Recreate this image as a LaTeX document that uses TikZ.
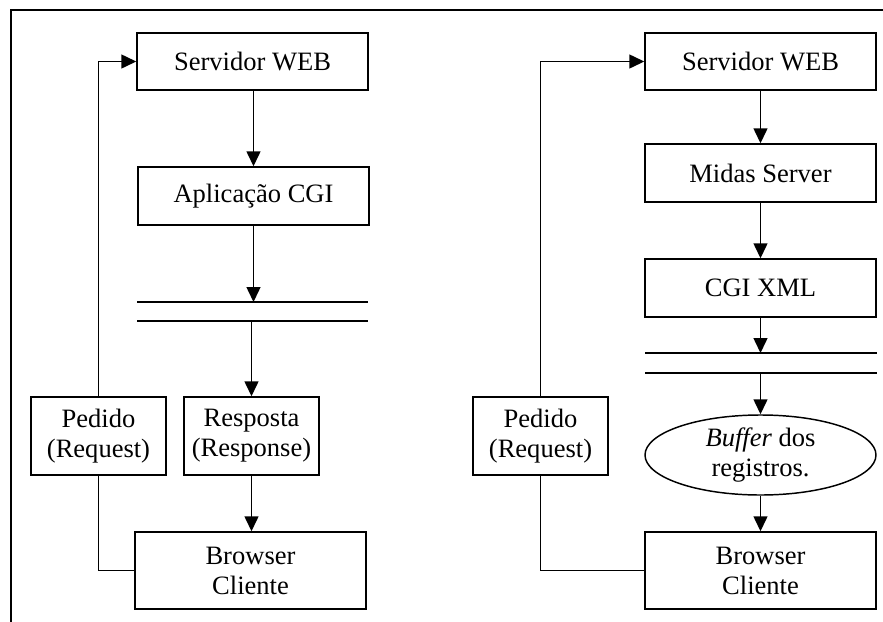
\documentclass[tikz,border=0pt]{standalone}
\usepackage{fontspec}
\setmainfont{Liberation Serif}
\usetikzlibrary{arrows.meta,shapes.geometric}
\begin{document}
\begin{tikzpicture}[x=0.75pt,y=-0.75pt,
  every node/.style={font=\fontsize{19.9pt}{22.5pt}\selectfont, align=center, inner sep=0pt},
  wbox/.style={draw, line width=1.1pt, minimum width=173.25pt, minimum height=43.5pt},
  sbox/.style={draw, line width=1.1pt, minimum width=101.25pt, minimum height=58.5pt},
  bbox/.style={draw, line width=1.1pt, minimum width=173.25pt, minimum height=57.75pt},
  conn/.style={line width=1.1pt},
  arr/.style={line width=1.1pt, -{Triangle[length=11.25pt,width=10.5pt]}}
]
\useasboundingbox (0,0) rectangle (883,622);
\draw[line width=1.5pt] (11,622) -- (11,10) -- (883,10);

% ---------- left panel ----------
\node[wbox, minimum height=42.75pt] (sw1) at (252.5,61.5) {Servidor WEB};
\node[wbox] (cgi1) at (253.5,196) {Aplicação CGI};
\coordinate (b1l) at (137,302); \coordinate (b1r) at (368,302);
\coordinate (b2l) at (137,321); \coordinate (b2r) at (368,321);
\draw[conn] (b1l) -- (b1r);
\draw[conn] (b2l) -- (b2r);
\coordinate (b1m) at (253.5,302);
\coordinate (b2m) at (251.5,321);
\node[sbox] (ped1) at (98.5,436) {Pedido\\(Request)};
\node[sbox] (resp) at (251.5,436) {Resposta\\(Response)};
\node[bbox] (br1) at (250.5,570.5) {Browser\\Cliente};

\draw[arr] (sw1.south -| cgi1) -- (cgi1.north);
\draw[arr] (cgi1.south) -- (b1m);
\draw[arr] (b2m) -- (resp.north);
\draw[arr] (resp.south) -- (resp.south |- br1.north);
\draw[arr] (ped1.north) |- (sw1.west);
\draw[conn] (ped1.south) |- (br1.west);

% ---------- right panel ----------
\node[wbox, minimum height=42.75pt] (sw2) at (760.5,61.5) {Servidor WEB};
\node[wbox] (mid) at (760.5,173) {Midas Server};
\node[wbox] (cgx) at (760.5,288) {CGI XML};
\coordinate (c1l) at (645,353); \coordinate (c1r) at (877,353);
\coordinate (c2l) at (645,373); \coordinate (c2r) at (877,373);
\draw[conn] (c1l) -- (c1r);
\draw[conn] (c2l) -- (c2r);
\coordinate (c1m) at (760.5,353);
\coordinate (c2m) at (760.5,373);
\node[draw, ellipse, line width=1.1pt, minimum width=173.25pt, minimum height=60pt] (buf) at (760.5,455) {\textit{Buffer} dos\\registros.};
\node[bbox] (br2) at (760.5,570.5) {Browser\\Cliente};
\node[sbox] (ped2) at (540.5,436) {Pedido\\(Request)};

\draw[arr] (sw2.south) -- (mid.north);
\draw[arr] (mid.south) -- (cgx.north);
\draw[arr] (cgx.south) -- (c1m);
\draw[arr] (c2m) -- (buf.north);
\draw[arr] (buf.south) -- (br2.north);
\draw[arr] (ped2.north) |- (sw2.west);
\draw[conn] (ped2.south) |- (br2.west);
\end{tikzpicture}
\end{document}
